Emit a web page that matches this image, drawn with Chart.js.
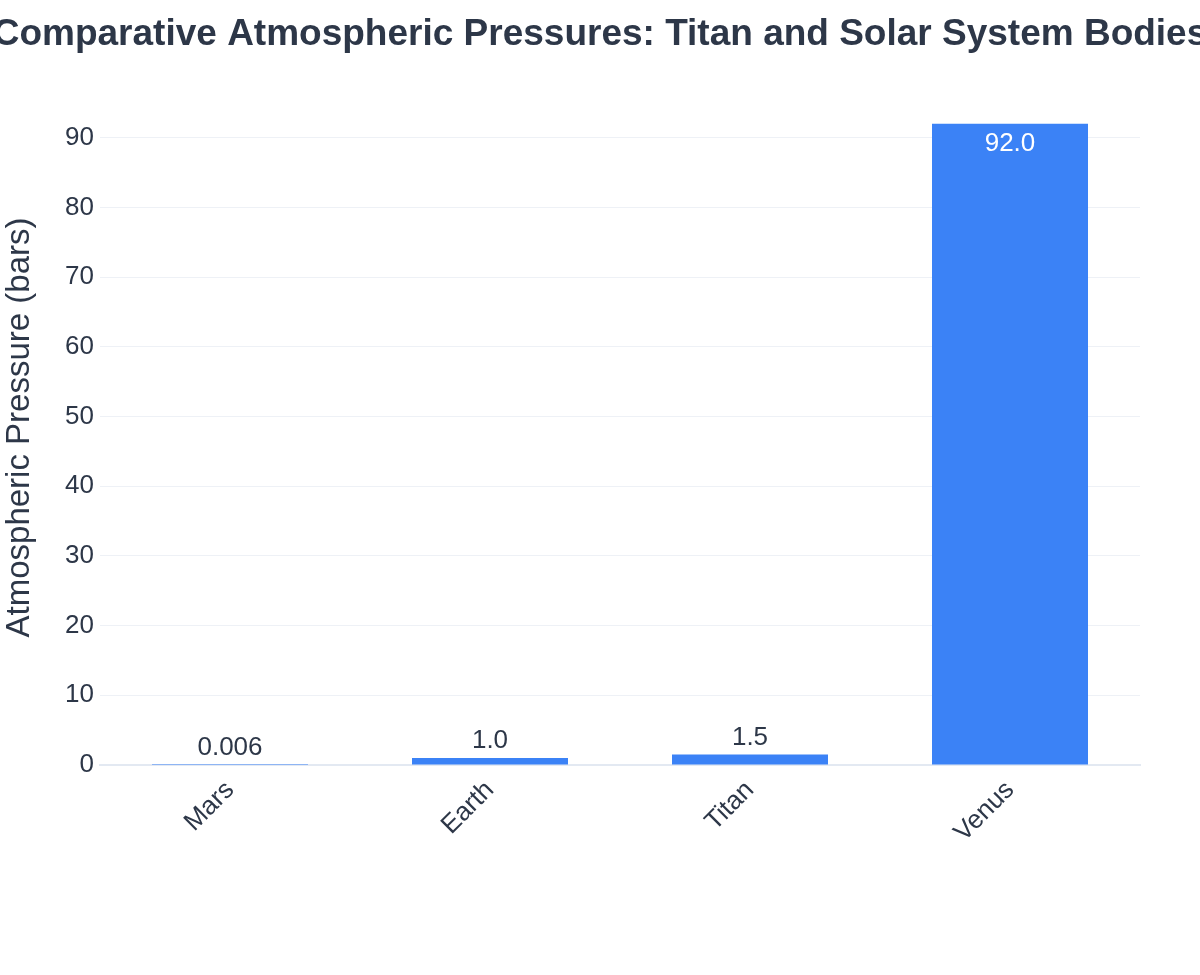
<!DOCTYPE html>
<html>
<head>
<meta charset="utf-8">
<script src="https://cdn.jsdelivr.net/npm/chart.js@4.4.1/dist/chart.umd.min.js"></script>
<style>
  html, body { margin: 0; padding: 0; background: #fff; }
  #chart { display: block; }
</style>
</head>
<body>
<canvas id="chart" width="1200" height="975"></canvas>
<script>
// data
var bodies = ["Mars", "Earth", "Titan", "Venus"];
var pressures = [0.006, 1.0, 1.5, 92.0];
var valueLabels = ["0.006", "1.0", "1.5", "92.0"];
var yMax = 96.84;
var chartTitle = "Comparative Atmospheric Pressures: Titan and Solar System Bodies";

var textColor = "#2d3748";
var fontFamily = "'Liberation Sans', Arial, sans-serif";

// values on the bars: above for short bars, inside for the tall one
var barLabels = {
  id: "barLabels",
  afterDatasetsDraw: function(chart) {
    var ctx = chart.ctx;
    var meta = chart.getDatasetMeta(0);
    ctx.save();
    ctx.font = "26px " + fontFamily;
    ctx.textAlign = "center";
    ctx.textBaseline = "alphabetic";
    meta.data.forEach(function(bar, i) {
      var h = bar.base - bar.y;
      if (h > 60) {
        ctx.fillStyle = "#ffffff";
        ctx.fillText(valueLabels[i], bar.x, bar.y + 27);
      } else {
        ctx.fillStyle = textColor;
        ctx.fillText(valueLabels[i], bar.x, bar.y - 10);
      }
    });
    ctx.restore();
  }
};

// title centred on the whole canvas (it runs past both edges)
var pageTitle = {
  id: "pageTitle",
  afterDraw: function(chart) {
    var ctx = chart.ctx;
    ctx.save();
    ctx.font = "bold 37px " + fontFamily;
    ctx.fillStyle = textColor;
    ctx.textAlign = "center";
    ctx.textBaseline = "alphabetic";
    ctx.fillText(chartTitle, chart.width / 2, 45);
    ctx.restore();
  }
};

new Chart(document.getElementById("chart").getContext("2d"), {
  type: "bar",
  data: {
    labels: bodies,
    datasets: [{
      data: pressures,
      backgroundColor: "#3b82f6",
      borderWidth: 0,
      categoryPercentage: 1.0,
      barPercentage: 0.6
    }]
  },
  options: {
    responsive: false,
    animation: false,
    layout: { padding: { left: 0, right: 60, top: 90, bottom: 0 } },
    plugins: {
      legend: { display: false },
      tooltip: { enabled: false },
      title: { display: false }
    },
    scales: {
      x: {
        grid: { display: false, drawTicks: false },
        border: { display: true, color: "#e3e9f2", width: 2 },
        ticks: {
          color: textColor,
          font: { family: fontFamily, size: 26 },
          maxRotation: 45,
          minRotation: 45,
          padding: 10
        },
        afterFit: function(scale) { scale.height = 210; }
      },
      y: {
        min: 0,
        max: yMax,
        grid: { color: "#eef1f6", lineWidth: 1, drawTicks: false },
        border: { display: false },
        ticks: {
          stepSize: 10,
          includeBounds: false,
          color: textColor,
          font: { family: fontFamily, size: 26 },
          padding: 6
        },
        title: {
          display: true,
          text: "Atmospheric Pressure (bars)",
          color: textColor,
          font: { family: fontFamily, size: 33 },
          padding: 0
        },
        afterFit: function(scale) { scale.width = 100; }
      }
    }
  },
  plugins: [barLabels, pageTitle]
});
</script>
</body>
</html>
